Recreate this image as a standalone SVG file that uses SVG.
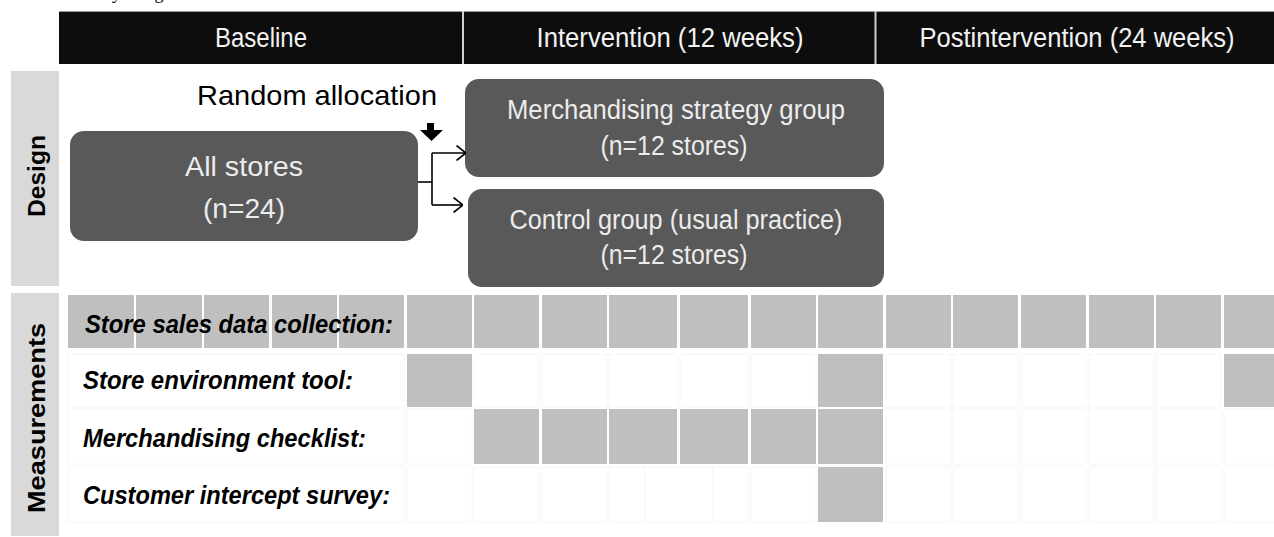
<svg xmlns="http://www.w3.org/2000/svg" width="1274" height="537" viewBox="0 0 1274 537">
<style>
.hdr{fill:#0d0d0d}
.hdrtxt{font-family:"Liberation Sans",Arial,sans-serif;font-size:27px;fill:#f2f2f2;text-anchor:middle}
.band{fill:#d9d9d9}
.bandtxt{font-family:"Liberation Sans",Arial,sans-serif;font-weight:bold;font-size:24px;fill:#000;text-anchor:middle}
.box{fill:#595959}
.boxtxt{font-family:"Liberation Sans",Arial,sans-serif;font-size:27px;fill:#ececec;text-anchor:middle}
.g{fill:#bfbfbf}
.w{fill:#ffffff;stroke:#f6f6f6;stroke-width:1}
.lbl{font-family:"Liberation Sans",Arial,sans-serif;font-weight:bold;font-style:italic;font-size:26px;fill:#000}
.conn{fill:none;stroke:#000;stroke-width:1.6}
</style>
<defs>
<marker id="chev" viewBox="0 0 10 16" refX="10" refY="8" markerWidth="10" markerHeight="16" markerUnits="userSpaceOnUse" orient="auto">
<path d="M0.5,0.5 L10,8 L0.5,15.5" fill="none" stroke="#000" stroke-width="1.6"/>
</marker>
</defs>
<rect width="1274" height="537" fill="#ffffff"/>
<text x="79" y="-1" font-family="'Liberation Serif',serif" font-size="18" fill="#000">Study design</text>

<g id="header">
<rect class="hdr" x="59" y="11" width="1215" height="53"/>
<line x1="59" y1="11.5" x2="1274" y2="11.5" stroke="#9a9a9a" stroke-width="1"/>
<line x1="463" y1="11" x2="463" y2="64" stroke="#d0d0d0" stroke-width="2"/>
<line x1="875.5" y1="11" x2="875.5" y2="64" stroke="#d0d0d0" stroke-width="2"/>
<text class="hdrtxt" x="261" y="47" textLength="92" lengthAdjust="spacingAndGlyphs">Baseline</text>
<text class="hdrtxt" x="670" y="47" textLength="267" lengthAdjust="spacingAndGlyphs">Intervention (12 weeks)</text>
<text class="hdrtxt" x="1077" y="47" textLength="315" lengthAdjust="spacingAndGlyphs">Postintervention (24 weeks)</text>
</g>

<g id="design-band">
<rect class="band" x="11" y="71" width="48" height="215"/>
<text class="bandtxt" transform="translate(45,176) rotate(-90)" textLength="82" lengthAdjust="spacingAndGlyphs">Design</text>
</g>

<g id="measurements-band">
<rect class="band" x="11" y="293" width="48" height="243"/>
<text class="bandtxt" transform="translate(45,418) rotate(-90)" textLength="190" lengthAdjust="spacingAndGlyphs">Measurements</text>
</g>

<g id="random-allocation">
<text x="197" y="105" font-family="'Liberation Sans',Arial,sans-serif" font-size="28" fill="#000" textLength="240" lengthAdjust="spacingAndGlyphs">Random allocation</text>
</g>

<g id="all-stores">
<rect class="box" x="70" y="131" width="348" height="110" rx="14"/>
<text class="boxtxt" x="244" y="176" font-size="30" textLength="118" lengthAdjust="spacingAndGlyphs">All stores</text>
<text class="boxtxt" x="244" y="218" font-size="30" textLength="82" lengthAdjust="spacingAndGlyphs">(n=24)</text>
</g>

<g id="merch-group">
<rect class="box" x="465" y="79" width="419" height="98" rx="14"/>
<text class="boxtxt" x="676" y="119" textLength="338" lengthAdjust="spacingAndGlyphs">Merchandising strategy group</text>
<text class="boxtxt" x="674" y="155" textLength="147" lengthAdjust="spacingAndGlyphs">(n=12 stores)</text>
</g>

<g id="control-group">
<rect class="box" x="468" y="189" width="416" height="98" rx="14"/>
<text class="boxtxt" x="676" y="229" textLength="333" lengthAdjust="spacingAndGlyphs">Control group (usual practice)</text>
<text class="boxtxt" x="674" y="264" textLength="147" lengthAdjust="spacingAndGlyphs">(n=12 stores)</text>
</g>

<g id="connectors">
<polygon points="427,123 434,123 434,130 443,130 431.5,141 420,130 427,130" fill="#000"/>
<path class="conn" d="M418,182 H432"/>
<path class="conn" d="M432,153 V205"/>
<path class="conn" d="M432,153 H466" marker-end="url(#chev)"/>
<path class="conn" d="M432,205 H463" marker-end="url(#chev)"/>
</g>

<g id="measurement-grid">
<rect class="w" x="68" y="354" width="336" height="53"/>
<rect class="w" x="68" y="409" width="336" height="55"/>
<rect class="w" x="68" y="467" width="336" height="55"/>
<rect class="g" x="68" y="295" width="66" height="53"/>
<rect class="g" x="136" y="295" width="66" height="53"/>
<rect class="g" x="204" y="295" width="65" height="53"/>
<rect class="g" x="272" y="295" width="65" height="53"/>
<rect class="g" x="339" y="295" width="65" height="53"/>
<rect class="g" x="407" y="295" width="65" height="53"/>
<rect class="g" x="474" y="295" width="65" height="53"/>
<rect class="g" x="542" y="295" width="65" height="53"/>
<rect class="g" x="609" y="295" width="68" height="53"/>
<rect class="g" x="680" y="295" width="68" height="53"/>
<rect class="g" x="751" y="295" width="65" height="53"/>
<rect class="g" x="818" y="295" width="65" height="53"/>
<rect class="g" x="886" y="295" width="65" height="53"/>
<rect class="g" x="953" y="295" width="65" height="53"/>
<rect class="g" x="1021" y="295" width="65" height="53"/>
<rect class="g" x="1089" y="295" width="65" height="53"/>
<rect class="g" x="1156" y="295" width="65" height="53"/>
<rect class="g" x="1224" y="295" width="65" height="53"/>
<rect class="g" x="407" y="354" width="65" height="53"/>
<rect class="w" x="474" y="354" width="65" height="53"/>
<rect class="w" x="542" y="354" width="65" height="53"/>
<rect class="w" x="609" y="354" width="68" height="53"/>
<rect class="w" x="680" y="354" width="68" height="53"/>
<rect class="w" x="751" y="354" width="65" height="53"/>
<rect class="g" x="818" y="354" width="65" height="53"/>
<rect class="w" x="886" y="354" width="65" height="53"/>
<rect class="w" x="953" y="354" width="65" height="53"/>
<rect class="w" x="1021" y="354" width="65" height="53"/>
<rect class="w" x="1089" y="354" width="65" height="53"/>
<rect class="w" x="1156" y="354" width="65" height="53"/>
<rect class="g" x="1224" y="354" width="65" height="53"/>
<rect class="w" x="407" y="409" width="65" height="55"/>
<rect class="g" x="474" y="409" width="65" height="55"/>
<rect class="g" x="542" y="409" width="65" height="55"/>
<rect class="g" x="609" y="409" width="68" height="55"/>
<rect class="g" x="680" y="409" width="68" height="55"/>
<rect class="g" x="751" y="409" width="65" height="55"/>
<rect class="g" x="818" y="409" width="65" height="55"/>
<rect class="w" x="886" y="409" width="65" height="55"/>
<rect class="w" x="953" y="409" width="65" height="55"/>
<rect class="w" x="1021" y="409" width="65" height="55"/>
<rect class="w" x="1089" y="409" width="65" height="55"/>
<rect class="w" x="1156" y="409" width="65" height="55"/>
<rect class="w" x="1224" y="409" width="65" height="55"/>
<rect class="w" x="407" y="467" width="65" height="55"/>
<rect class="w" x="474" y="467" width="65" height="55"/>
<rect class="w" x="542" y="467" width="65" height="55"/>
<rect class="w" x="609" y="467" width="36" height="55"/>
<rect class="w" x="645" y="467" width="68" height="55"/>
<rect class="w" x="713" y="467" width="35" height="55"/>
<rect class="w" x="751" y="467" width="65" height="55"/>
<rect class="g" x="818" y="467" width="65" height="55"/>
<rect class="w" x="886" y="467" width="65" height="55"/>
<rect class="w" x="953" y="467" width="65" height="55"/>
<rect class="w" x="1021" y="467" width="65" height="55"/>
<rect class="w" x="1089" y="467" width="65" height="55"/>
<rect class="w" x="1156" y="467" width="65" height="55"/>
<rect class="w" x="1224" y="467" width="65" height="55"/>
</g>

<g id="row-labels">
<text class="lbl" x="85" y="333" textLength="308" lengthAdjust="spacingAndGlyphs">Store sales data collection:</text>
<text class="lbl" x="83" y="389" textLength="270" lengthAdjust="spacingAndGlyphs">Store environment tool:</text>
<text class="lbl" x="83" y="447" textLength="283" lengthAdjust="spacingAndGlyphs">Merchandising checklist:</text>
<text class="lbl" x="83" y="504" textLength="307" lengthAdjust="spacingAndGlyphs">Customer intercept survey:</text>
</g>
</svg>
